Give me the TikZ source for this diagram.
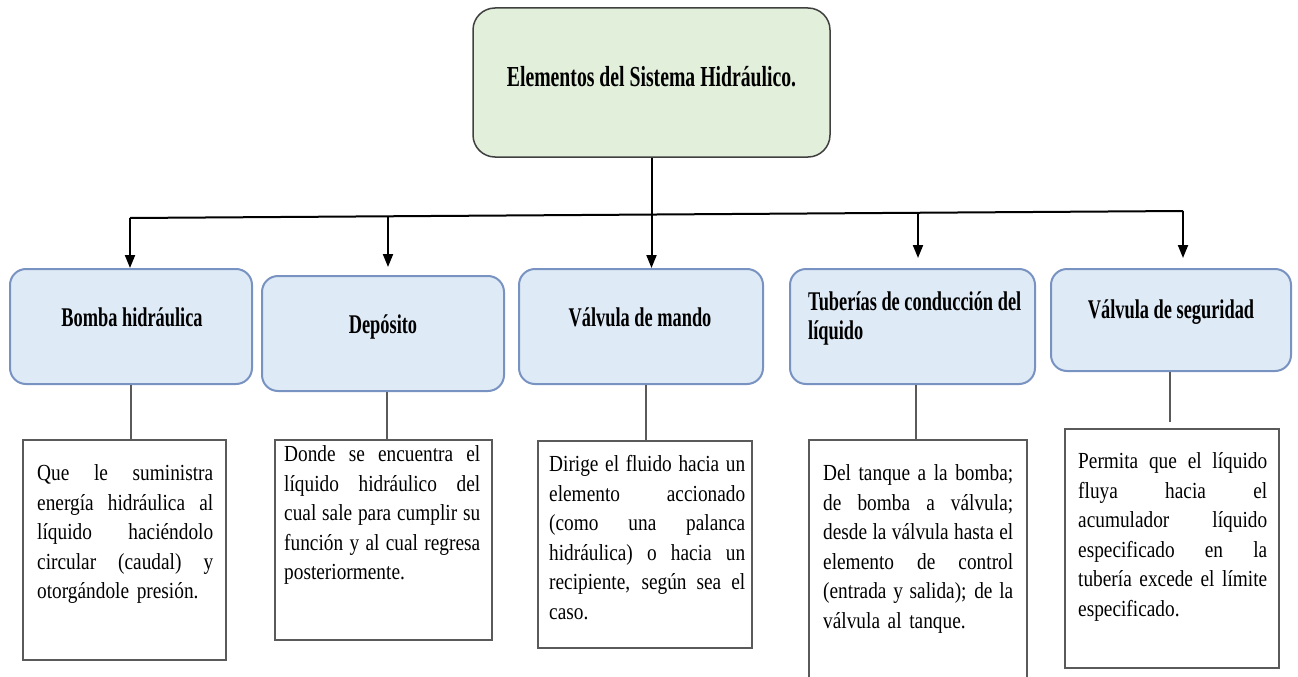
\documentclass[tikz,border=0pt]{standalone}
\usepackage{fontspec}
\setmainfont{Liberation Serif}
\newfontfamily\bodyfont[FakeStretch=0.84]{Liberation Serif}
\newfontfamily\headfont[FakeStretch=0.68]{Liberation Serif}
\usetikzlibrary{arrows.meta}
\definecolor{titlefill}{HTML}{E2EFDA}
\definecolor{titleline}{HTML}{404040}
\definecolor{bluefill}{HTML}{DEEAF6}
\definecolor{blueline}{HTML}{7893C2}
\definecolor{descline}{HTML}{5A5A5A}
\definecolor{connline}{HTML}{5A5A5A}
\newcommand\jline[1]{\makebox[\hsize][s]{\spaceskip=0pt\xspaceskip=0pt\relax #1}\\}
\begin{document}
\begin{tikzpicture}[x=1pt,y=-1pt,
  titlebox/.style={draw=titleline, fill=titlefill, line width=1.5pt, rounded corners=22pt, inner sep=0pt},
  bluebox/.style={draw=blueline, fill=bluefill, line width=2pt, rounded corners=16pt, inner sep=0pt},
  descbox/.style={draw=descline, fill=white, line width=1.6pt, inner sep=0pt},
  headtext/.style={font=\headfont\bfseries\fontsize{27}{29}\selectfont, inner sep=0pt, anchor=base},
  desctext/.style={font=\bodyfont\fontsize{23}{29.5}\selectfont, inner sep=0pt, anchor=north west, align=left},
  mainline/.style={line width=2pt, draw=black},
  downarrow/.style={-{Triangle[length=13pt,width=10pt]}},
  greyline/.style={line width=1.5pt, draw=connline}]
\useasboundingbox (0,0) rectangle (1298,677);

% top box
\node[titlebox, minimum width=357pt, minimum height=149pt] (title) at (651.5,82.5) {};
\node[headtext, font=\headfont\bfseries\fontsize{29}{32}\selectfont] (titletext) at (651.5,86) {Elementos del Sistema Hidráulico.};

% blue boxes
\node[bluebox, minimum width=242pt, minimum height=115pt] (b1) at (131,326.5) {};
\node[bluebox, minimum width=242pt, minimum height=115pt] (b2) at (383,333.5) {};
\node[bluebox, minimum width=244pt, minimum height=115pt] (b3) at (641,326.5) {};
\node[bluebox, minimum width=245pt, minimum height=115pt] (b4) at (912.5,326.5) {};
\node[bluebox, minimum width=240pt, minimum height=102pt] (b5) at (1171,320) {};

\node[headtext] (h1) at (132,326) {Bomba hidráulica};
\node[headtext] (h2) at (383,333) {Depósito};
\node[headtext] (h3) at (640,326) {Válvula de mando};
\node[headtext, anchor=north west, align=left] (h4) at (808,290) {\strut Tuberías de conducción del\\líquido};
\node[headtext] (h5) at (1171,318) {Válvula de seguridad};

% description boxes
\node[descbox, minimum width=203pt, minimum height=220pt] (d1) at (124.5,550) {};
\node[descbox, minimum width=217pt, minimum height=200pt] (d2) at (383.5,540) {};
\node[descbox, minimum width=214pt, minimum height=207pt] (d3) at (645,544.5) {};
\node[descbox, draw=none, minimum width=216pt, minimum height=236pt] (d4) at (918,559) {};
\draw[line width=1.6pt, draw=descline] (d4.south west) -- (d4.north west) -- (d4.north east) -- (d4.south east);
\node[descbox, minimum width=214pt, minimum height=239pt] (d5) at (1172,548.5) {};

\node[desctext, text width=176pt] (x1) at (37,460) {\noindent\strut\jline{Que le suministra}\jline{energía hidráulica al}\jline{líquido haciéndolo}\jline{circular (caudal) y}otorgándole presión.};
\node[desctext, text width=196pt] (x2) at (284,441) {\noindent\strut\jline{Donde se encuentra el}\jline{líquido hidráulico del}\jline{cual sale para cumplir su}\jline{función y al cual regresa}posteriormente.};
\node[desctext, text width=196pt] (x3) at (549,451) {\noindent\strut\jline{Dirige el fluido hacia un}\jline{elemento accionado}\jline{(como una palanca}\jline{hidráulica) o hacia un}\jline{recipiente, según sea el}caso.};
\node[desctext, text width=190pt] (x4) at (823,460) {\noindent\strut\jline{Del tanque a la bomba;}\jline{de bomba a válvula;}\jline{desde la válvula hasta el}\jline{elemento de control}\jline{(entrada y salida); de la}válvula al tanque.};
\node[desctext, text width=189pt] (x5) at (1078,448) {\noindent\strut\jline{Permita que el líquido}\jline{fluya hacia el}\jline{acumulador líquido}\jline{especificado en la}\jline{tubería excede el límite}especificado.};

% main connectors
\coordinate (p1) at (130,218);
\coordinate (p2) at (388,216.3);
\coordinate (p4) at (918,212.7);
\coordinate (p5) at (1183,211);
\draw[mainline] (p1) -- (p5);
\draw[mainline, downarrow] (title.south) -- (title.south |- b3.north);
\draw[mainline, downarrow] (p1) -- (p1 |- b1.north);
\draw[mainline, downarrow, shorten >=8pt] (p2) -- (p2 |- b2.north);
\draw[mainline, downarrow, shorten >=10pt] (p4) -- (p4 |- b4.north);
\draw[mainline, downarrow, shorten >=10pt] (p5) -- (p5 |- b5.north);

% grey connectors
\draw[greyline] (b1.south) -- (b1.south |- d1.north);
\draw[greyline] ([xshift=4pt]b2.south) -- ([xshift=4pt]b2.south |- d2.north);
\draw[greyline] ([xshift=5pt]b3.south) -- ([xshift=5pt]b3.south |- d3.north);
\draw[greyline] ([xshift=3.5pt]b4.south) -- ([xshift=3.5pt]b4.south |- d4.north);
\draw[greyline, shorten >=6pt] ([xshift=-1pt]b5.south) -- ([xshift=-1pt]b5.south |- d5.north);
\end{tikzpicture}
\end{document}
